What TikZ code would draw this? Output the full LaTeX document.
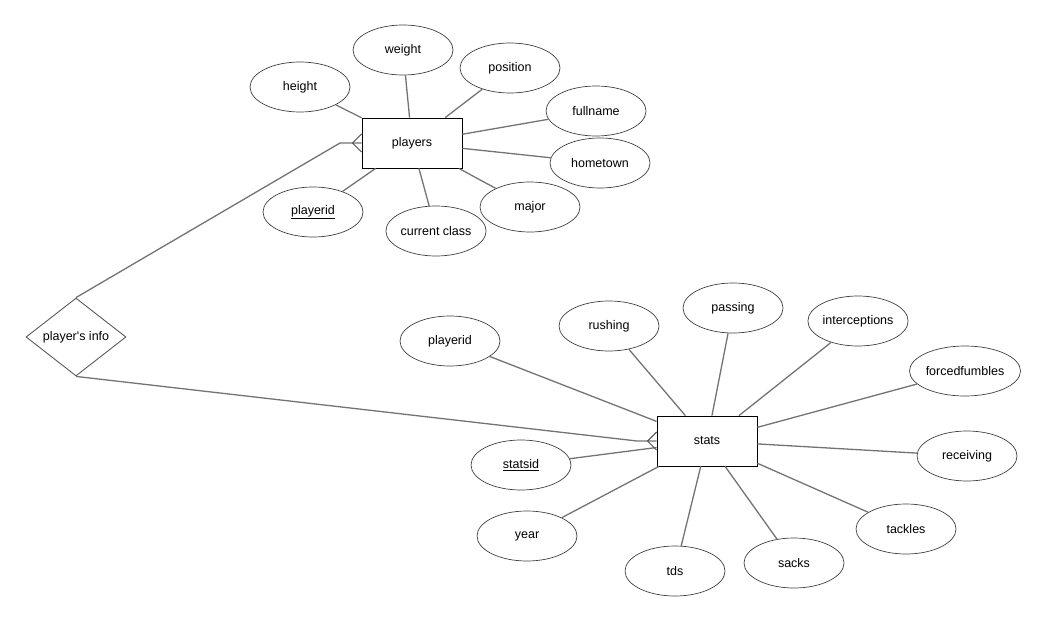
\documentclass[tikz,border=0pt]{standalone}
\usepackage{fontspec}
\setmainfont{Liberation Sans}
\usetikzlibrary{shapes.geometric}
\tikzset{
  attr/.style={ellipse,draw=black!75,line width=0.7pt,minimum width=100pt,minimum height=50pt,inner sep=0pt},
  entity/.style={rectangle,draw=black,line width=0.8pt,minimum width=100pt,minimum height=50pt,inner sep=0pt},
  relation/.style={diamond,draw=black!65,line width=0.9pt,minimum width=100pt,minimum height=56pt,inner sep=0pt},
  link/.style={draw=black!55,line width=1.3pt}
}
\begin{document}
\begin{tikzpicture}[x=1pt,y=-1pt,font=\fontsize{12.5}{14}\selectfont]
      \useasboundingbox (0,0) rectangle (1043,623);
      \draw
        (412,143) node[entity] (players){players}
        (707,441) node[entity] (stats){stats}
        (76,337) node[relation] (info){player\textquotesingle s info}
        (300,87) node[attr] (height){height}
        (403,50) node[attr] (weight){weight}
        (510,68) node[attr] (position){position}
        (596,111) node[attr] (fullname){fullname}
        (600,163) node[attr] (hometown){hometown}
        (530,207) node[attr] (major){major}
        (436,231) node[attr] (class){current class}
        (313,212) node[attr] (pid){\underline{playerid}}
        (450,341) node[attr] (spid){playerid}
        (609,326) node[attr] (rushing){rushing}
        (733,308) node[attr] (passing){passing}
        (858,321) node[attr] (ints){interceptions}
        (965,371) node[attr] (ff){forcedfumbles}
        (967,456) node[attr] (receiving){receiving}
        (906,529) node[attr] (tackles){tackles}
        (794,563) node[attr] (sacks){sacks}
        (675,571) node[attr] (tds){tds}
        (527,536) node[attr] (year){year}
        (521,465) node[attr] (sid){\underline{statsid}};
      \coordinate (pbend) at (340,143);
      \coordinate (sbend) at (637,441);
      \begin{scope}[link]
        \draw (height) to (players);
        \draw (weight) to (players);
        \draw (position) to (players);
        \draw (fullname) to (players);
        \draw (hometown) to (players);
        \draw (major) to (players);
        \draw (class) to (players);
        \draw (pid) to (players);
        \draw (spid) to (stats);
        \draw (rushing) to (stats);
        \draw (passing) to (stats);
        \draw (ints) to (stats);
        \draw (ff) to (stats);
        \draw (receiving) to (stats);
        \draw (tackles) to (stats);
        \draw (sacks) to (stats);
        \draw (tds) to (stats);
        \draw (year) to (stats);
        \draw (sid) to (stats);
        \draw (info.north) to (pbend) to (players.west);
        \draw (info.south) to (sbend) to (stats.west);
      \end{scope}
      % crow's feet
      \begin{scope}[draw=black!70,line width=0.9pt]
        \draw ([yshift=-9pt]players.west) -- ([xshift=-9pt]players.west) -- ([yshift=9pt]players.west);
        \draw ([yshift=-9pt]stats.west) -- ([xshift=-9pt]stats.west) -- ([yshift=9pt]stats.west);
      \end{scope}
    \end{tikzpicture}
\end{document}
